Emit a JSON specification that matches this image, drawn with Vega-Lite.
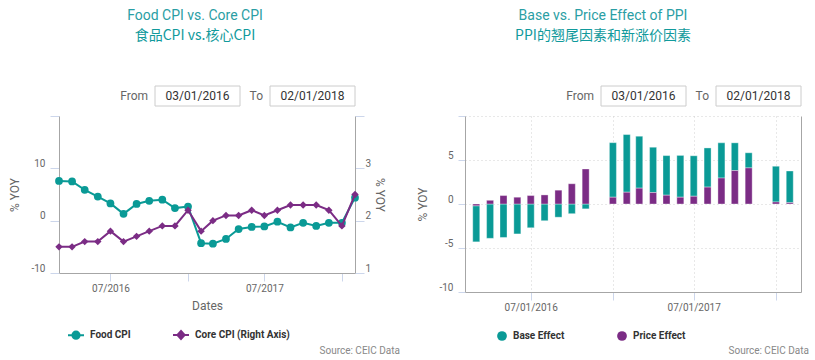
{
  "$schema": "https://vega.github.io/schema/vega-lite/v6.json",
  "background": "white",
  "padding": {"left": 8, "top": 8, "right": 0, "bottom": 0},
  "config": {
    "font": "Roboto",
    "view": {"stroke": null},
    "axis": {"labelFont": "Roboto", "labelFontSize": 10, "labelColor": "#666666", "titleFont": "Roboto", "titleFontSize": 12, "titleFontWeight": "normal", "titleColor": "#666666", "tickColor": "#ccd6eb", "domainColor": "#a6a6a6", "grid": false},
    "legend": {"labelFont": "Roboto", "labelFontSize": 10, "labelFontWeight": "bold", "labelColor": "#333333"},
    "title": {"font": "Roboto", "fontSize": 14, "fontWeight": "normal", "color": "#2a9ea4", "subtitleFont": "Noto Sans CJK SC", "subtitleFontSize": 14, "subtitleColor": "#119a9c", "subtitlePadding": 6}
  },
  "datasets": {
    "rangeL": [{"label": "From", "date": "03/01/2016"}, {"label": "To", "date": "02/01/2018"}],
    "rangeR": [{"label": "From", "date": "03/01/2016"}, {"label": "To", "date": "02/01/2018"}],
    "cpi": [
      {"date": "2016-03-01", "series": "Food CPI", "value": 7.6},
      {"date": "2016-04-01", "series": "Food CPI", "value": 7.5},
      {"date": "2016-05-01", "series": "Food CPI", "value": 5.9},
      {"date": "2016-06-01", "series": "Food CPI", "value": 4.6},
      {"date": "2016-07-01", "series": "Food CPI", "value": 3.3},
      {"date": "2016-08-01", "series": "Food CPI", "value": 1.3},
      {"date": "2016-09-01", "series": "Food CPI", "value": 3.2},
      {"date": "2016-10-01", "series": "Food CPI", "value": 3.8},
      {"date": "2016-11-01", "series": "Food CPI", "value": 4.0},
      {"date": "2016-12-01", "series": "Food CPI", "value": 2.4},
      {"date": "2017-01-01", "series": "Food CPI", "value": 2.7},
      {"date": "2017-02-01", "series": "Food CPI", "value": -4.3},
      {"date": "2017-03-01", "series": "Food CPI", "value": -4.4},
      {"date": "2017-04-01", "series": "Food CPI", "value": -3.5},
      {"date": "2017-05-01", "series": "Food CPI", "value": -1.6},
      {"date": "2017-06-01", "series": "Food CPI", "value": -1.2},
      {"date": "2017-07-01", "series": "Food CPI", "value": -1.1},
      {"date": "2017-08-01", "series": "Food CPI", "value": -0.2},
      {"date": "2017-09-01", "series": "Food CPI", "value": -1.3},
      {"date": "2017-10-01", "series": "Food CPI", "value": -0.4},
      {"date": "2017-11-01", "series": "Food CPI", "value": -1.0},
      {"date": "2017-12-01", "series": "Food CPI", "value": -0.4},
      {"date": "2018-01-01", "series": "Food CPI", "value": -0.4},
      {"date": "2018-02-01", "series": "Food CPI", "value": 4.4},
      {"date": "2016-03-01", "series": "Core CPI (Right Axis)", "value": 1.5},
      {"date": "2016-04-01", "series": "Core CPI (Right Axis)", "value": 1.5},
      {"date": "2016-05-01", "series": "Core CPI (Right Axis)", "value": 1.6},
      {"date": "2016-06-01", "series": "Core CPI (Right Axis)", "value": 1.6},
      {"date": "2016-07-01", "series": "Core CPI (Right Axis)", "value": 1.8},
      {"date": "2016-08-01", "series": "Core CPI (Right Axis)", "value": 1.6},
      {"date": "2016-09-01", "series": "Core CPI (Right Axis)", "value": 1.7},
      {"date": "2016-10-01", "series": "Core CPI (Right Axis)", "value": 1.8},
      {"date": "2016-11-01", "series": "Core CPI (Right Axis)", "value": 1.9},
      {"date": "2016-12-01", "series": "Core CPI (Right Axis)", "value": 1.9},
      {"date": "2017-01-01", "series": "Core CPI (Right Axis)", "value": 2.2},
      {"date": "2017-02-01", "series": "Core CPI (Right Axis)", "value": 1.8},
      {"date": "2017-03-01", "series": "Core CPI (Right Axis)", "value": 2.0},
      {"date": "2017-04-01", "series": "Core CPI (Right Axis)", "value": 2.1},
      {"date": "2017-05-01", "series": "Core CPI (Right Axis)", "value": 2.1},
      {"date": "2017-06-01", "series": "Core CPI (Right Axis)", "value": 2.2},
      {"date": "2017-07-01", "series": "Core CPI (Right Axis)", "value": 2.1},
      {"date": "2017-08-01", "series": "Core CPI (Right Axis)", "value": 2.2},
      {"date": "2017-09-01", "series": "Core CPI (Right Axis)", "value": 2.3},
      {"date": "2017-10-01", "series": "Core CPI (Right Axis)", "value": 2.3},
      {"date": "2017-11-01", "series": "Core CPI (Right Axis)", "value": 2.3},
      {"date": "2017-12-01", "series": "Core CPI (Right Axis)", "value": 2.2},
      {"date": "2018-01-01", "series": "Core CPI (Right Axis)", "value": 1.9},
      {"date": "2018-02-01", "series": "Core CPI (Right Axis)", "value": 2.5}
    ],
    "ppi": [
      {"date": "2016-03-01", "series": "Base Effect", "value": -4.1},
      {"date": "2016-04-01", "series": "Base Effect", "value": -3.9},
      {"date": "2016-05-01", "series": "Base Effect", "value": -3.8},
      {"date": "2016-06-01", "series": "Base Effect", "value": -3.4},
      {"date": "2016-07-01", "series": "Base Effect", "value": -2.7},
      {"date": "2016-08-01", "series": "Base Effect", "value": -1.9},
      {"date": "2016-09-01", "series": "Base Effect", "value": -1.5},
      {"date": "2016-10-01", "series": "Base Effect", "value": -1.1},
      {"date": "2016-11-01", "series": "Base Effect", "value": -0.55},
      {"date": "2017-01-01", "series": "Base Effect", "value": 6.2},
      {"date": "2017-02-01", "series": "Base Effect", "value": 6.55},
      {"date": "2017-03-01", "series": "Base Effect", "value": 5.9},
      {"date": "2017-04-01", "series": "Base Effect", "value": 5.15},
      {"date": "2017-05-01", "series": "Base Effect", "value": 4.5},
      {"date": "2017-06-01", "series": "Base Effect", "value": 4.75},
      {"date": "2017-07-01", "series": "Base Effect", "value": 4.6},
      {"date": "2017-08-01", "series": "Base Effect", "value": 4.45},
      {"date": "2017-09-01", "series": "Base Effect", "value": 4.0},
      {"date": "2017-10-01", "series": "Base Effect", "value": 3.15},
      {"date": "2017-11-01", "series": "Base Effect", "value": 1.72},
      {"date": "2018-01-01", "series": "Base Effect", "value": 4.06},
      {"date": "2018-02-01", "series": "Base Effect", "value": 3.6},
      {"date": "2016-03-01", "series": "Price Effect", "value": -0.2},
      {"date": "2016-04-01", "series": "Price Effect", "value": 0.42},
      {"date": "2016-05-01", "series": "Price Effect", "value": 0.96},
      {"date": "2016-06-01", "series": "Price Effect", "value": 0.77},
      {"date": "2016-07-01", "series": "Price Effect", "value": 0.96},
      {"date": "2016-08-01", "series": "Price Effect", "value": 1.03},
      {"date": "2016-09-01", "series": "Price Effect", "value": 1.57},
      {"date": "2016-10-01", "series": "Price Effect", "value": 2.3},
      {"date": "2016-11-01", "series": "Price Effect", "value": 3.98},
      {"date": "2017-01-01", "series": "Price Effect", "value": 0.77},
      {"date": "2017-02-01", "series": "Price Effect", "value": 1.34},
      {"date": "2017-03-01", "series": "Price Effect", "value": 1.8},
      {"date": "2017-04-01", "series": "Price Effect", "value": 1.3},
      {"date": "2017-05-01", "series": "Price Effect", "value": 1.0},
      {"date": "2017-06-01", "series": "Price Effect", "value": 0.77},
      {"date": "2017-07-01", "series": "Price Effect", "value": 0.88},
      {"date": "2017-08-01", "series": "Price Effect", "value": 1.92},
      {"date": "2017-09-01", "series": "Price Effect", "value": 2.95},
      {"date": "2017-10-01", "series": "Price Effect", "value": 3.8},
      {"date": "2017-11-01", "series": "Price Effect", "value": 4.1},
      {"date": "2018-01-01", "series": "Price Effect", "value": 0.23},
      {"date": "2018-02-01", "series": "Price Effect", "value": 0.15}
    ]
  },
  "spacing": 16,
  "resolve": {"scale": {"color": "independent"}, "legend": {"color": "independent"}},
  "hconcat": [
    {
      "spacing": 8,
      "resolve": {"scale": {"color": "independent"}, "legend": {"color": "independent"}},
      "vconcat": [
        {
          "width": 296,
          "height": 20,
          "data": {"name": "rangeL"},
          "title": {"text": "Food CPI vs. Core CPI", "subtitle": "食品CPI vs.核心CPI", "anchor": "middle", "dx": -12, "offset": 43},
          "encoding": {"x": {"field": "label", "type": "nominal", "sort": ["From", "To"], "axis": null, "scale": {"paddingInner": 0, "paddingOuter": 0.287, "align": 1}}},
          "layer": [
            {"mark": {"type": "bar", "width": 85, "xOffset": 15, "fill": "#ffffff", "stroke": "#cccccc", "strokeWidth": 1}},
            {"mark": {"type": "text", "align": "right", "dx": -34.5, "fontSize": 12, "color": "#666666"}, "encoding": {"text": {"field": "label"}}},
            {"mark": {"type": "text", "align": "center", "dx": 15, "fontSize": 12, "color": "#333333"}, "encoding": {"text": {"field": "date"}}}
          ]
        },
        {
          "width": 296,
          "height": 157,
          "data": {"name": "cpi"},
          "title": {"text": "Source: CEIC Data", "orient": "bottom", "anchor": "end", "frame": "group", "dx": 45, "offset": 3, "fontSize": 10, "color": "#888888", "font": "Roboto"},
          "encoding": {
            "x": {
              "field": "date", "type": "temporal",
              "scale": {"type": "utc", "domain": [{"year": 2016, "month": 3, "date": 1, "utc": true}, {"year": 2018, "month": 2, "date": 1, "utc": true}]},
              "axis": {
                "values": [{"year": 2016, "month": 7, "date": 1, "utc": true}, {"year": 2017, "month": 1, "date": 1, "utc": true}, {"year": 2017, "month": 7, "date": 1, "utc": true}, {"year": 2018, "month": 1, "date": 1, "utc": true}],
                "labelExpr": "utcmonth(datum.value) == 6 ? utcFormat(datum.value, '%m/%Y') : ''",
                "title": "Dates", "tickSize": 8, "labelPadding": 2, "titlePadding": 7, "labelFlush": false, "labelOverlap": false
              }
            },
            "color": {
              "field": "series", "type": "nominal",
              "scale": {"domain": ["Food CPI", "Core CPI (Right Axis)"], "range": ["#0a9a96", "#7b2c85"]},
              "legend": {
                "orient": "none", "legendX": 8, "legendY": 210, "direction": "horizontal", "title": null,
                "symbolSize": 256, "symbolStrokeWidth": 2, "labelOffset": 5, "columnPadding": 38,
                "encode": {"symbols": {"update": {
                  "shape": {"signal": "datum.value === 'Food CPI' ? 'M-1,0L1,0M0.45,0A0.45,0.45,0,1,1,-0.45,0A0.45,0.45,0,1,1,0.45,0Z' : 'M-1,0L1,0M0,-0.5L0.45,0L0,0.5L-0.45,0Z'"},
                  "fill": {"scale": "color", "field": "value"},
                  "stroke": {"scale": "color", "field": "value"},
                  "fillOpacity": {"value": 1},
                  "strokeOpacity": {"value": 1}
                }}}
              }
            }
          },
          "layer": [
            {
              "transform": [{"filter": "datum.series === 'Food CPI'"}],
              "encoding": {"y": {"field": "value", "type": "quantitative",
                "scale": {"domain": [-10, 20], "nice": false, "zero": false},
                "axis": {"orient": "left", "values": [-10, 0, 10, 20], "labelExpr": "datum.value == 20 ? '' : '' + datum.value", "title": "% YOY", "tickSize": 9, "labelPadding": 5, "labelBaseline": "alphabetic", "labelOffset": -2, "titlePadding": 9}}},
              "layer": [
                {"mark": {"type": "line", "strokeWidth": 2}},
                {"mark": {"type": "point", "filled": true, "shape": "circle", "size": 60, "opacity": 1}}
              ]
            },
            {
              "transform": [{"filter": "datum.series === 'Core CPI (Right Axis)'"}],
              "encoding": {"y": {"field": "value", "type": "quantitative",
                "scale": {"domain": [1, 4], "nice": false, "zero": false},
                "axis": {"orient": "right", "values": [1, 2, 3, 4], "labelExpr": "datum.value == 4 ? '' : '' + datum.value", "title": "% YOY", "tickSize": 9, "labelPadding": 1, "labelBaseline": "alphabetic", "labelOffset": -2, "titlePadding": 2}}},
              "layer": [
                {"mark": {"type": "line", "strokeWidth": 2}},
                {"mark": {"type": "point", "filled": true, "shape": "diamond", "size": 55, "opacity": 1}}
              ]
            }
          ],
          "resolve": {"scale": {"y": "independent"}}
        }
      ]
    },
    {
      "spacing": 8,
      "resolve": {"scale": {"color": "independent"}, "legend": {"color": "independent"}},
      "vconcat": [
        {
          "width": 336,
          "height": 20,
          "data": {"name": "rangeR"},
          "title": {"text": "Base vs. Price Effect of PPI", "subtitle": "PPI的翘尾因素和新涨价因素", "anchor": "middle", "dx": -30, "offset": 43},
          "encoding": {"x": {"field": "label", "type": "nominal", "sort": ["From", "To"], "axis": null, "scale": {"paddingInner": 0, "paddingOuter": 0.4609, "align": 1}}},
          "layer": [
            {"mark": {"type": "bar", "width": 85, "xOffset": 15, "fill": "#ffffff", "stroke": "#cccccc", "strokeWidth": 1}},
            {"mark": {"type": "text", "align": "right", "dx": -34.5, "fontSize": 12, "color": "#666666"}, "encoding": {"text": {"field": "label"}}},
            {"mark": {"type": "text", "align": "center", "dx": 15, "fontSize": 12, "color": "#333333"}, "encoding": {"text": {"field": "date"}}}
          ]
        },
        {
          "width": 336,
          "height": 176,
          "data": {"name": "ppi"},
          "title": {"text": "Source: CEIC Data", "orient": "bottom", "anchor": "end", "frame": "group", "dx": 8, "offset": 5, "fontSize": 10, "color": "#888888", "font": "Roboto"},
          "encoding": {
            "x": {
              "field": "date", "type": "temporal",
              "scale": {"type": "utc", "domain": [{"year": 2016, "month": 2, "date": 16, "utc": true}, {"year": 2018, "month": 2, "date": 15, "utc": true}]},
              "axis": {
                "values": [{"year": 2016, "month": 7, "date": 1, "utc": true}, {"year": 2017, "month": 1, "date": 1, "utc": true}, {"year": 2017, "month": 7, "date": 1, "utc": true}, {"year": 2018, "month": 1, "date": 1, "utc": true}],
                "labelExpr": "utcmonth(datum.value) == 6 ? utcFormat(datum.value, '%m/%d/%Y') : ''",
                "title": null, "grid": true, "gridDash": [1, 3], "gridColor": "#d0d0d0", "tickSize": 8, "labelPadding": 2, "labelFlush": false, "labelOverlap": false
              }
            }
          },
          "layer": [
            {
              "mark": {"type": "bar", "width": 7, "stroke": "#ffffff", "strokeOpacity": 0.35, "strokeWidth": 1},
              "encoding": {
                "y": {"field": "value", "type": "quantitative", "stack": "zero",
                  "scale": {"domain": [-10, 10], "nice": false},
                  "axis": {"orient": "left", "values": [-10, -5, 0, 5, 10], "labelExpr": "datum.value == 10 ? '' : '' + datum.value", "title": "% YOY", "grid": true, "gridDash": [1, 3], "gridColor": "#d0d0d0", "tickSize": 7, "labelPadding": 5, "labelBaseline": "alphabetic", "labelOffset": -2, "titlePadding": 9}},
                "color": {
                  "field": "series", "type": "nominal",
                  "scale": {"domain": ["Base Effect", "Price Effect"], "range": ["#0a9a96", "#7b2c85"]},
                  "legend": {"orient": "none", "legendX": 32, "legendY": 215, "direction": "horizontal", "title": null, "symbolType": "circle", "symbolSize": 95, "symbolStrokeWidth": 0, "labelOffset": 6, "columnPadding": 52}
                },
                "order": {"field": "series", "sort": "descending"}
              }
            },
            {
              "mark": {"type": "rule", "opacity": 0},
              "encoding": {"y": {"datum": 0, "type": "quantitative", "axis": {"orient": "right", "labels": false, "ticks": false, "grid": false, "title": null, "domain": true}}}
            }
          ],
          "resolve": {"axis": {"y": "independent"}}
        }
      ]
    }
  ]
}
